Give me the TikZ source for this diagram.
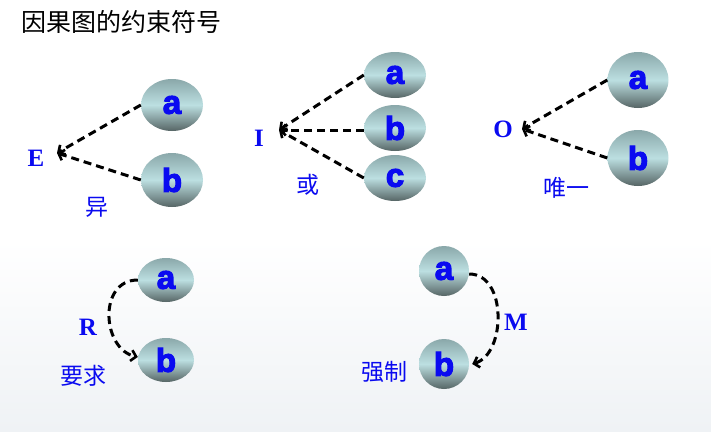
\documentclass[tikz,border=0pt]{standalone}
\usepackage{fontspec}
\usetikzlibrary{shapes.geometric,arrows.meta}
\newfontfamily\cjk{Noto Sans CJK SC}
\newfontfamily\serifb{Liberation Serif}
\newfontfamily\sansb[FakeBold=3.5]{Liberation Sans}
\definecolor{ltblue}{HTML}{0A0AF0}
\definecolor{ballmid}{HTML}{BCDFE1}
\definecolor{balltop}{HTML}{8AA8AA}
\definecolor{ballbot}{HTML}{566565}
\definecolor{bgbot}{HTML}{EFF2F5}
\tikzset{
  ball/.style={ellipse, inner sep=0pt, top color=balltop, bottom color=ballbot, middle color=ballmid,
    font=\sansb\bfseries\fontsize{33}{33}\selectfont, text=ltblue},
  rel/.style={font=\serifb\bfseries\fontsize{25}{25}\selectfont, text=ltblue},
  cnlabel/.style={font=\cjk\fontsize{23}{23}\selectfont, text=ltblue},
  link/.style={black, line width=3pt, dash pattern=on 8pt off 5pt, -{Straight Barb[length=5pt,width=11pt,line width=2.6pt]}},
}
\begin{document}
\begin{tikzpicture}[x=1pt,y=-1pt]
\useasboundingbox (0,0) rectangle (711,431);
\shade[top color=white, bottom color=bgbot] (0,240) rectangle (711,431);
\node[anchor=west, font=\cjk\fontsize{25}{25}\selectfont] (title) at (18,22) {因果图的约束符号};
% E
\node[ball, minimum width=62pt, minimum height=52pt] (Ea) at (172,105) {a};
\node[ball, minimum width=62pt, minimum height=54pt] (Eb) at (172,180) {b};
\coordinate (Ev) at (57,153);
\draw[link] (Ea.west) -- (Ev);
\draw[link] (Eb.west) -- (Ev);
\node[rel] (El) at (36,158) {E};
\node[cnlabel] (Ec) at (97,207) {异};
% I
\node[ball, minimum width=62pt, minimum height=46pt] (Ia) at (395,75) {a};
\node[ball, minimum width=62pt, minimum height=46pt] (Ib) at (395,128) {b};
\node[ball, minimum width=62pt, minimum height=46pt] (Ic) at (395,178) {c};
\coordinate (Iv) at (279,130);
\draw[link] (Ia.west) -- (Iv);
\draw[link] (Ib.west |- Iv) -- (Iv);
\draw[link] (Ic.west) -- (Iv);
\node[rel] (Il) at (259,138) {I};
\node[cnlabel] (Icn) at (308,185) {或};
% O
\node[ball, minimum width=61pt, minimum height=56pt] (Oa) at (638,80) {a};
\node[ball, minimum width=61pt, minimum height=56pt] (Ob) at (638,158) {b};
\coordinate (Ov) at (522,129);
\draw[link] (Oa.west) -- (Ov);
\draw[link] (Ob.west) -- (Ov);
\node[rel] (Ol) at (503,129) {O};
\node[cnlabel] (Ocn) at (566,188) {唯一};
% R
\node[ball, minimum width=56pt, minimum height=44pt] (Ra) at (166,280) {a};
\node[ball, minimum width=56pt, minimum height=44pt] (Rb) at (166,360) {b};
\draw[link] (Ra.west) .. controls +(-40,0) and +(-36,-8) .. ([yshift=3pt]Rb.west);
\node[rel] (Rl) at (88,327) {R};
\node[cnlabel] (Rcn) at (83,376) {要求};
% M
\node[ball, minimum width=50pt, minimum height=50pt] (Ma) at (444,271) {a};
\node[ball, minimum width=50pt, minimum height=50pt] (Mb) at (444,364) {b};
\draw[link] ([yshift=-3pt]Ma.east) .. controls +(38,0) and +(34,-10) .. ([xshift=3pt]Mb.east);
\node[rel] (Ml) at (516,322) {M};
\node[cnlabel] (Mcn) at (384,372) {强制};
\end{tikzpicture}
\end{document}
